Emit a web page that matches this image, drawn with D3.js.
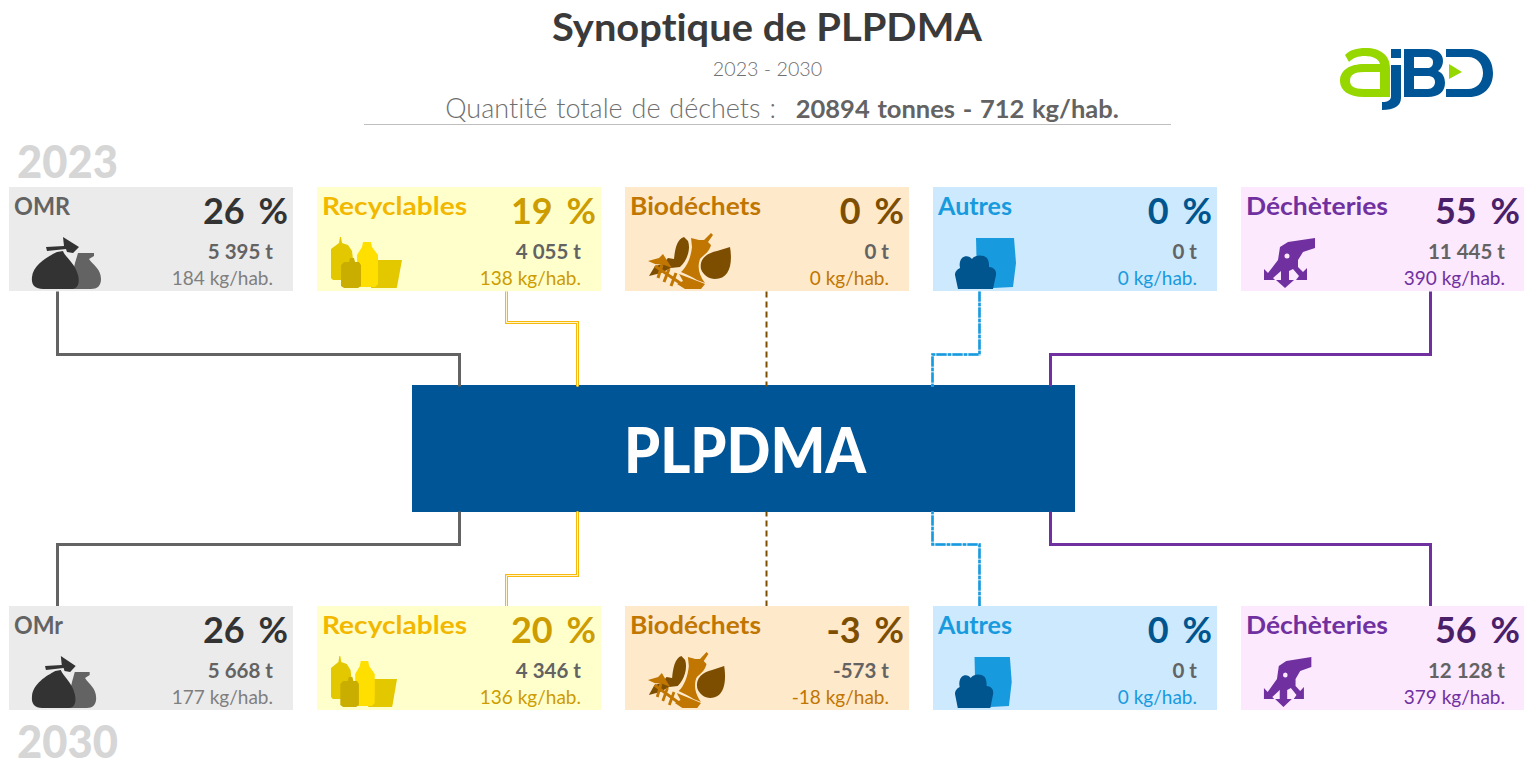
<!DOCTYPE html>
<html>
<head>
<meta charset="utf-8">
<script src="https://cdn.jsdelivr.net/npm/d3@7"></script>
<style>
  html, body { margin: 0; padding: 0; background: #fff; overflow: hidden; }
  text { font-family: "Lato", "Open Sans", sans-serif; font-variant-ligatures: none; }
</style>
</head>
<body>
<div id="chart"></div>
<script>
// values
const categories = ["OMR", "Recyclables", "Biodéchets", "Autres", "Déchèteries"]
const categories2030 = ["OMr", "Recyclables", "Biodéchets", "Autres", "Déchèteries"]

const percent2023 = [26, 19, 0, 0, 55]
const tonnes2023 = ["5 395", "4 055", "0", "0", "11 445"]
const kgHab2023 = [184, 138, 0, 0, 390]

const percent2030 = [26, 20, -3, 0, 56]
const tonnes2030 = ["5 668", "4 346", "-573", "0", "12 128"]
const kgHab2030 = [177, 136, -18, 0, 379]

const years = ["2023", "2030"]
const totalTonnes = 20894
const totalKgHab = 712

// colours by category
const cardFill = ["#ebebeb", "#ffffcb", "#fee9cb", "#cce9fd", "#fce9fe"]
const nameColor = ["#636363", "#f2b800", "#c07600", "#189ade", "#7030a0"]
const percentColor = ["#333333", "#cc9c00", "#7e4e00", "#00558f", "#4a2068"]
const kgColor = ["#7f7f7f", "#cc9c00", "#c07600", "#189ade", "#7030a0"]
const lineColor = ["#636363", "#f7b90e", "#7e4e00", "#189ade", "#7030a0"]
const lineWidth = [3, 3, 2, 2.5, 3]
const lineDash = [null, null, "6,4", "10,1.5,3,1.5", null]
// what shows under or inside a line: recyclables is double, autres has pale gaps
const lineUnder = [null, null, null, "#9ad4f3", null]
const lineInner = [null, "#fff6cf", null, null, null]

const width = 1524, height = 759
const cardH = 104, row2023 = 187, row2030 = 606
const boxX = 412, boxW = 663, boxY = 385, boxH = 127

const svg = d3.select("#chart").append("svg")
    .attr("width", width)
    .attr("height", height)

const x = d3.scaleBand()
    .domain(d3.range(categories.length))
    .range([9, 1525])
    .paddingInner(24 / 308)
    .paddingOuter(0)

function label(parent, px, py, txt, size, color, weight, anchor, len) {
    const t = parent.append("text")
        .attr("x", px).attr("y", py)
        .attr("font-size", size)
        .attr("fill", color)
        .attr("font-weight", weight || 400)
        .attr("text-anchor", anchor || "start")
        .text(txt)
    // the original font runs wider than Lato, so fit to the measured width
    if (len) t.attr("textLength", len).attr("lengthAdjust", "spacingAndGlyphs")
    return t
}

// title block
label(svg, 767, 41, "Synoptique de PLPDMA", 38, "#3a3a3a", 700, "middle", 430)
label(svg, 767.5, 76, "2023 - 2030", 19.7, "#6f6f6f", 300, "middle")

const total = svg.append("text")
    .attr("x", 782).attr("y", 118)
    .attr("text-anchor", "middle")
    .attr("font-size", 27)
    .attr("fill", "#6f6f6f")
    .attr("font-weight", 300)
    .attr("word-spacing", 1.5)
total.append("tspan").text("Quantité totale de déchets : ")
total.append("tspan")
    .attr("dx", 11)
    .attr("font-size", 25.5)
    .attr("font-weight", 700)
    .attr("fill", "#636363")
    .text(`${totalTonnes} tonnes - ${totalKgHab} kg/hab.`)

svg.append("line")
    .attr("x1", 364).attr("x2", 1171)
    .attr("y1", 124.5).attr("y2", 124.5)
    .attr("stroke", "#bfbfbf")

label(svg, 17, 178, years[0], 46, "#d6d6d6", 900, "start", 101)
label(svg, 17, 758, years[1], 46, "#d6d6d6", 900, "start", 101)

// central box
svg.append("rect")
    .attr("x", boxX).attr("y", boxY)
    .attr("width", boxW).attr("height", boxH)
    .attr("fill", "#005596")
label(svg, 745, 473, "PLPDMA", 63, "#ffffff", 900, "middle", 242)

// connectors between the cards and the box
const cardAnchor = [49, 190, 142, 47, 190]
const boxAnchor = [460, 578, 767, 933, 1051]
const elbowTop = [354, 322, 354, 354, 354]
const elbowBottom = [544, 575, 544, 544, 544]

const link = d3.line()

function connector(i, y0, elbow, y1) {
    const cx = x(i) + cardAnchor[i]
    return [[cx, y0], [cx, elbow], [boxAnchor[i], elbow], [boxAnchor[i], y1]]
}

categories.forEach((c, i) => {
    const paths = [
        connector(i, row2023 + cardH, elbowTop[i], boxY + 1),
        connector(i, row2030, elbowBottom[i], boxY + boxH - 1)
    ]
    paths.forEach(p => {
        const g = svg.append("g")
            .attr("transform", "translate(-0.5,0.5)")
            .attr("fill", "none")
        if (lineUnder[i]) {
            g.append("path").attr("d", link(p))
                .attr("stroke", lineUnder[i])
                .attr("stroke-width", lineWidth[i])
        }
        g.append("path").attr("d", link(p))
            .attr("stroke", lineColor[i])
            .attr("stroke-width", lineWidth[i])
            .attr("stroke-dasharray", lineDash[i])
        if (lineInner[i]) {
            g.append("path").attr("d", link(p))
                .attr("stroke", lineInner[i])
                .attr("stroke-width", 1)
        }
    })
})

// icons, drawn in card coordinates
const iconLeft = [23, 14, 22, 22, 22]

function drawIcon(g, i, squeeze) {
    const o = g.append("g")
        .attr("transform", `translate(${iconLeft[i]},0) scale(${squeeze},1) translate(${-iconLeft[i]},0)`)
    const shape = (d, fill) => o.append("path").attr("d", d).attr("fill", fill)
    if (i == 0) {
        shape("M69 66 L85 66 L85 69 L80 72 C84 78 92 82 92 92 C92 99 88 102 82 102 L60 102 L66 76 Z", "#636363")
        shape("M54 50 L70 60 L64 66 L58 65 L57 62 L38 64 L37 60 L55 59 Z", "#333333")
        shape("M54 64 C56 70 66 76 69 88 C71 96 69 102 62 102 L34 102 C26 102 22 98 23 90 C24 78 38 70 48 65 Z", "#333333")
    } else if (i == 1) {
        shape("M24 50 L25 56 L31 58 L35 64 L36 72 L36 93 L16 93 L14 91 L14 62 L22 56 L23 50 Z", "#e3c800")
        shape("M61 73 L85 73 L80 100 C80 101 79 101 78 101 L54 101 L56 73 Z", "#e3c800")
        shape("M46 55 L54 55 L55 60 L61 68 L61 97 L58 100 L43 100 L40 97 L40 68 L45 60 Z", "#ffdf00")
        shape("M33 71 L37 71 L38 75 L42 75 L44 78 L44 99 L41 101 L27 101 L24 99 L24 78 L27 75 L32 75 Z", "#c9ae00")
    } else if (i == 2) {
        shape("M59 50 C52 52 50 62 49 72 L43 71 L38 77 L30 79 L24 89 L36 86 L46 81 L55 80 C62 74 66 62 63 54 Z", "#7e4e00")
        shape("M66 51 L74 53 L79 53 L86 46 L88 48 L83 55 L86 58 C84 66 78 68 75 72 C72 80 74 88 80 96 L72 93 C68 90 62 88 56 85 C62 80 66 70 67 60 Z", "#c07600")
        shape("M105 60 C108 78 104 92 90 92 C84 92 78 88 76 82 C74 72 82 66 92 64 Z", "#7e4e00")
        shape("M23 74 L34 71 L38 67 L43 75 L47 81 L39 78 L30 77 Z", "#c07600")
        shape("M54 87 L75 95 L80 97 L76 102 L60 102 L52 97 L58 94 Z", "#c07600")
        o.append("path")
            .attr("d", "M30 79 L58 98 M37 78 L33 91 M44 82 L39 95 M51 86 L46 99")
            .attr("fill", "none").attr("stroke", "#c07600").attr("stroke-width", 3)
    } else if (i == 3) {
        shape("M43 51 L81 51 L83 76 L80 100 L60 101 L44 90 Z", "#189ade")
        shape("M29 71 C32 68 37 69 39 72 C41 68 50 67 54 71 C56 74 56 77 56 80 C60 80 64 83 63 88 L60 102 L25 102 L22 88 C22 84 25 82 27 81 C26 77 27 73 29 71 Z", "#00558f")
    } else {
        o.append("path")
            .attr("d", "M74 51 L74 61 L62 65 L57 73 L57 80 L62 85 L66 81 L66 93 L55 93 L58 89 L52 82 L48 84 L48 93 L53 93 L44 101 L35 93 L40 93 L40 84 L32 91 L34 93 L23 93 L23 82 L27 86 L37 73 L39 60 L47 55 Z M46 66.5 A2.5 2.5 0 1 0 46 71.5 A2.5 2.5 0 1 0 46 66.5 Z")
            .attr("fill", "#7030a0").attr("fill-rule", "evenodd")
    }
}

const nameLen = { "OMR": 56, "OMr": 49, "Recyclables": 145, "Biodéchets": 131, "Autres": 74, "Déchèteries": 142 }

function drawRow(y, names, percents, tonnes, kgs, squeeze) {
    names.forEach((name, i) => {
        const g = svg.append("g")
            .attr("transform", `translate(${x(i)},${y})`)
        g.append("rect")
            .attr("width", x.bandwidth())
            .attr("height", cardH)
            .attr("fill", cardFill[i])
        drawIcon(g, i, squeeze)
        label(g, 5, 27.5, name, 24, nameColor[i], 700, "start", nameLen[name])
        label(g, 279, 37, percents[i] + " %", 36, percentColor[i], 700, "end")
            .attr("word-spacing", 5)
        label(g, 264, 72, tonnes[i] + " t", 20.5, "#636363", 700, "end")
        label(g, 264, 98, kgs[i] + " kg/hab.", 19, kgColor[i], 400, "end")
    })
}

drawRow(row2023, categories, percent2023, tonnes2023, kgHab2023, 1)
drawRow(row2030, categories2030, percent2030, tonnes2030, kgHab2030, 0.93)

// logo
const logo = svg.append("g").attr("transform", "translate(1340,48)")
logo.append("path")
    .attr("d", "M5 7 C10 2 16 0 26 0 C40 0 50 7 50 20 L50 49 L24 49 C8 49 0 42 0 33 C0 22 10 16 24 16 L40 16 C39 11 33 8 25 8 C18 8 13 10 9 14 Z M40 24 L24 24 C14 24 10 27 10 33 C10 38 14 41 24 41 L40 41 Z")
    .attr("fill", "#96d700").attr("fill-rule", "evenodd")
logo.append("path")
    .attr("d", "M51 1 H61 V10 H51 Z M51 17 H61 V50 C61 58 54 62 42 62 V54 C48 54 51 52 51 48 Z")
    .attr("fill", "#005596")
logo.append("path")
    .attr("d", "M64 1 H88 C98 1 103 6 103 13 C103 17 101 21 98 23 C103 25 105 30 105 35 C105 44 98 49 88 49 H64 Z M74 9 V20 H87 C91 20 93 18 93 14 C93 11 91 9 87 9 Z M74 28 V41 H88 C92 41 95 38 95 34 C95 30 92 28 88 28 Z")
    .attr("fill", "#005596").attr("fill-rule", "evenodd")
logo.append("path")
    .attr("d", "M106 1 H129 C144 1 153 11 153 25 C153 39 144 49 129 49 H106 V41 H128 C137 41 143 34 143 25 C143 16 137 9 128 9 H106 Z")
    .attr("fill", "#005596")
logo.append("path")
    .attr("d", "M109 16 L122 24 L109 31 Z")
    .attr("fill", "#96d700")
</script>
</body>
</html>
